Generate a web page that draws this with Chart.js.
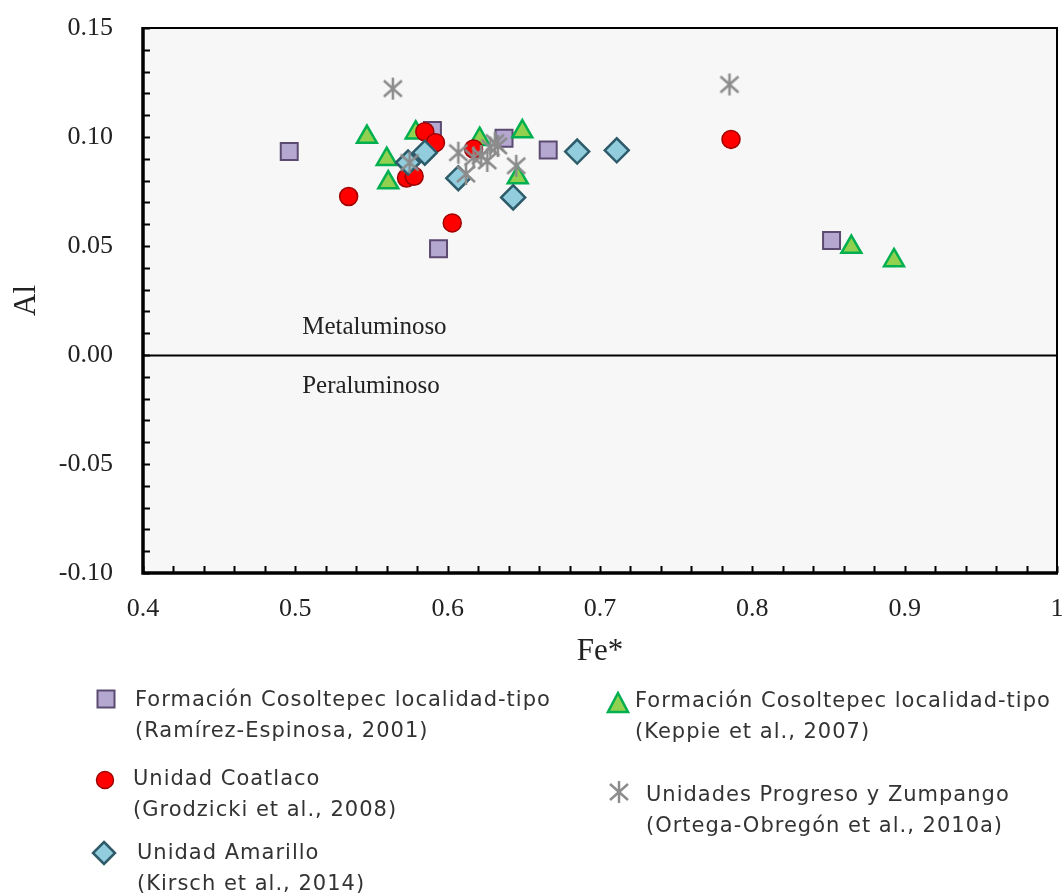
<!DOCTYPE html>
<html>
<head>
<meta charset="utf-8">
<script src="https://cdn.jsdelivr.net/npm/chart.js@4/dist/chart.umd.min.js"></script>
<style>
  html, body { margin: 0; padding: 0; background: #fff; overflow: hidden; }
  #wrap { position: relative; width: 1062px; height: 893px; overflow: hidden; }
  .leg { position: absolute; font-family: "DejaVu Sans", Verdana, sans-serif; font-size: 21px; letter-spacing: 1px; color: #333; line-height: 31px; white-space: nowrap; }
  .mk { position: absolute; }
</style>
</head>
<body>
<div id="wrap">
  <canvas id="chart" width="1062" height="893"></canvas>

  <svg class="mk" style="left:96px;top:689px" width="20" height="20"><rect x="1.5" y="1.5" width="17" height="17" fill="#b4a7d0" stroke="#5b4b70" stroke-width="2"/></svg>
  <div class="leg" style="left:135px;top:684px">Formación Cosoltepec localidad-tipo<br>(Ramírez-Espinosa, 2001)</div>

  <svg class="mk" style="left:95px;top:770px" width="20" height="20"><circle cx="10" cy="10" r="8.5" fill="#ff0000" stroke="#a00000" stroke-width="1.5"/></svg>
  <div class="leg" style="left:133px;top:763px">Unidad Coatlaco<br>(Grodzicki et al., 2008)</div>

  <svg class="mk" style="left:91px;top:840px" width="26" height="26"><polygon points="13,2 24,13 13,24 2,13" fill="#92cddd" stroke="#2e5b6a" stroke-width="2.5"/></svg>
  <div class="leg" style="left:137px;top:837px">Unidad Amarillo<br>(Kirsch et al., 2014)</div>

  <svg class="mk" style="left:606px;top:691px" width="24" height="24"><polygon points="12,2 22,21 2,21" fill="#92d050" stroke="#00b050" stroke-width="2.5"/></svg>
  <div class="leg" style="left:635px;top:685px">Formación Cosoltepec localidad-tipo<br>(Keppie et al., 2007)</div>

  <svg class="mk" style="left:607px;top:780px" width="24" height="24"><g stroke="#8c8c8c" stroke-width="2.5"><line x1="12" y1="1" x2="12" y2="23"/><line x1="3" y1="4" x2="21" y2="20"/><line x1="3" y1="20" x2="21" y2="4"/></g></svg>
  <div class="leg" style="left:646px;top:779px">Unidades Progreso y Zumpango<br>(Ortega-Obregón et al., 2010a)</div>
</div>

<script>
// Fe* vs Al values
const xTicks = [0.4, 0.5, 0.6, 0.7, 0.8, 0.9, 1.0];
const yTicks = [-0.10, -0.05, 0.00, 0.05, 0.10, 0.15];

const ramirezFe = [0.496, 0.590, 0.637, 0.666, 0.594, 0.852];
const ramirezAl = [0.0933, 0.1030, 0.0994, 0.0940, 0.0487, 0.0525];

const keppieFe = [0.547, 0.579, 0.649, 0.560, 0.561, 0.646, 0.621, 0.865, 0.893];
const keppieAl = [0.1000, 0.1020, 0.1025, 0.0898, 0.0791, 0.0814, 0.0990, 0.0495, 0.0434];

const coatlacoFe = [0.535, 0.585, 0.592, 0.573, 0.578, 0.603, 0.617, 0.786];
const coatlacoAl = [0.0727, 0.1024, 0.0974, 0.0812, 0.0820, 0.0606, 0.0945, 0.0989];

const amarilloFe = [0.585, 0.574, 0.607, 0.643, 0.685, 0.711];
const amarilloAl = [0.0928, 0.0883, 0.0811, 0.0723, 0.0933, 0.0939];

const progresoFe = [0.564, 0.575, 0.607, 0.612, 0.617, 0.622, 0.626, 0.628, 0.631, 0.633, 0.645, 0.785];
const progresoAl = [0.1222, 0.0883, 0.0928, 0.0830, 0.0906, 0.0913, 0.0890, 0.0951, 0.0974, 0.0959, 0.0868, 0.1241];

const pts = (xs, ys) => xs.map((x, i) => ({ x: x, y: ys[i] }));

// asterisk marker (vertical bar + X)
const star = document.createElement("canvas");
star.width = 24; star.height = 24;
(function () {
  const c = star.getContext("2d");
  c.strokeStyle = "#8c8c8c";
  c.lineWidth = 2.5;
  c.beginPath();
  c.moveTo(12, 1); c.lineTo(12, 23);
  c.moveTo(3, 4); c.lineTo(21, 20);
  c.moveTo(3, 20); c.lineTo(21, 4);
  c.stroke();
})();

const serif = "'Liberation Serif', 'Times New Roman', serif";

const frame = {
  id: "frame",
  beforeDraw(chart) {
    const { ctx, chartArea: a } = chart;
    ctx.save();
    ctx.fillStyle = "#f7f7f7";
    ctx.fillRect(a.left, a.top, a.right - a.left, a.bottom - a.top);
    ctx.restore();
  },
  beforeDatasetsDraw(chart) {
    const { ctx, chartArea: a, scales } = chart;
    const x = scales.x, y = scales.y;
    ctx.save();
    // zero line
    const y0 = Math.round(y.getPixelForValue(0)) + 0.5;
    ctx.strokeStyle = "#000";
    ctx.lineWidth = 2;
    ctx.beginPath();
    ctx.moveTo(a.left, y0); ctx.lineTo(a.right, y0);
    ctx.stroke();
    // field labels
    ctx.fillStyle = "#222";
    ctx.font = "25px " + serif;
    ctx.textAlign = "left";
    ctx.textBaseline = "middle";
    ctx.fillText("Metaluminoso", x.getPixelForValue(0.5045), y.getPixelForValue(0.0128));
    ctx.fillText("Peraluminoso", x.getPixelForValue(0.5045), y.getPixelForValue(-0.0142));
    ctx.restore();
  },
  afterDraw(chart) {
    const { ctx, chartArea: a, scales } = chart;
    const x = scales.x, y = scales.y;
    ctx.save();
    ctx.strokeStyle = "#000";
    // inward tick marks
    ctx.lineWidth = 2;
    ctx.beginPath();
    for (let v = -0.10; v <= 0.1501; v += 0.01) {
      const p = Math.round(y.getPixelForValue(v)) + 0.5;
      ctx.moveTo(a.left, p); ctx.lineTo(a.left + 7, p);
    }
    for (let v = 0.4; v <= 1.0001; v += 0.02) {
      const p = Math.round(x.getPixelForValue(v)) + 0.5;
      ctx.moveTo(p, a.bottom); ctx.lineTo(p, a.bottom - 7);
    }
    ctx.stroke();
    // frame
    ctx.lineWidth = 2;
    ctx.strokeRect(a.left, a.top, a.right - a.left, a.bottom - a.top);
    ctx.lineWidth = 3.5;
    ctx.beginPath();
    ctx.moveTo(a.left, a.top - 1); ctx.lineTo(a.left, a.bottom); ctx.lineTo(a.right + 1, a.bottom);
    ctx.stroke();
    ctx.restore();
  }
};

new Chart(document.getElementById("chart"), {
  type: "scatter",
  data: {
    datasets: [
      {
        label: "Unidades Progreso y Zumpango (Ortega-Obregón et al., 2010a)",
        data: pts(progresoFe, progresoAl),
        pointStyle: star, pointRadius: 12, order: 0
      },
      {
        label: "Unidad Amarillo (Kirsch et al., 2014)",
        data: pts(amarilloFe, amarilloAl),
        pointStyle: "rectRot", pointRadius: 12,
        backgroundColor: "#92cddd", borderColor: "#2e5b6a", borderWidth: 2.5, order: 1
      },
      {
        label: "Unidad Coatlaco (Grodzicki et al., 2008)",
        data: pts(coatlacoFe, coatlacoAl),
        pointStyle: "circle", pointRadius: 9,
        backgroundColor: "#ff0000", borderColor: "#a00000", borderWidth: 1.5, order: 2
      },
      {
        label: "Formación Cosoltepec localidad-tipo (Keppie et al., 2007)",
        data: pts(keppieFe, keppieAl),
        pointStyle: "triangle", pointRadius: 11.5,
        backgroundColor: "#92d050", borderColor: "#00b050", borderWidth: 2.5, order: 3
      },
      {
        label: "Formación Cosoltepec localidad-tipo (Ramírez-Espinosa, 2001)",
        data: pts(ramirezFe, ramirezAl),
        pointStyle: "rect", pointRadius: 12,
        backgroundColor: "#b4a7d0", borderColor: "#5b4b70", borderWidth: 2, order: 4
      }
    ]
  },
  options: {
    responsive: false,
    animation: false,
    devicePixelRatio: 1,
    layout: { autoPadding: false, padding: { top: 28, right: 5, bottom: 223, left: 0 } },
    plugins: { legend: { display: false }, tooltip: { enabled: false } },
    scales: {
      x: {
        type: "linear", min: 0.4, max: 1.0,
        grid: { display: false, drawTicks: false },
        border: { display: false },
        afterBuildTicks: s => { s.ticks = xTicks.map(v => ({ value: v })); },
        afterFit: s => { s.height = 97; s.paddingLeft = 0; s.paddingRight = 0; },
        ticks: {
          padding: 21, color: "#222", font: { family: serif, size: 26 },
          callback: v => String(Number(v.toFixed(1)))
        },
        title: { display: true, text: "Fe*", color: "#222", font: { family: serif, size: 31 }, padding: 0 }
      },
      y: {
        type: "linear", min: -0.10, max: 0.15,
        grid: { display: false, drawTicks: false },
        border: { display: false },
        afterBuildTicks: s => { s.ticks = yTicks.map(v => ({ value: v })); },
        afterFit: s => { s.width = 143; s.paddingTop = 0; s.paddingBottom = 0; },
        ticks: {
          padding: 30, color: "#222", font: { family: serif, size: 26 },
          callback: v => v.toFixed(2)
        },
        title: { display: true, text: "Al", color: "#222", font: { family: serif, size: 31 }, padding: { top: 8, bottom: 0 } }
      }
    }
  },
  plugins: [frame]
});
</script>
</body>
</html>
